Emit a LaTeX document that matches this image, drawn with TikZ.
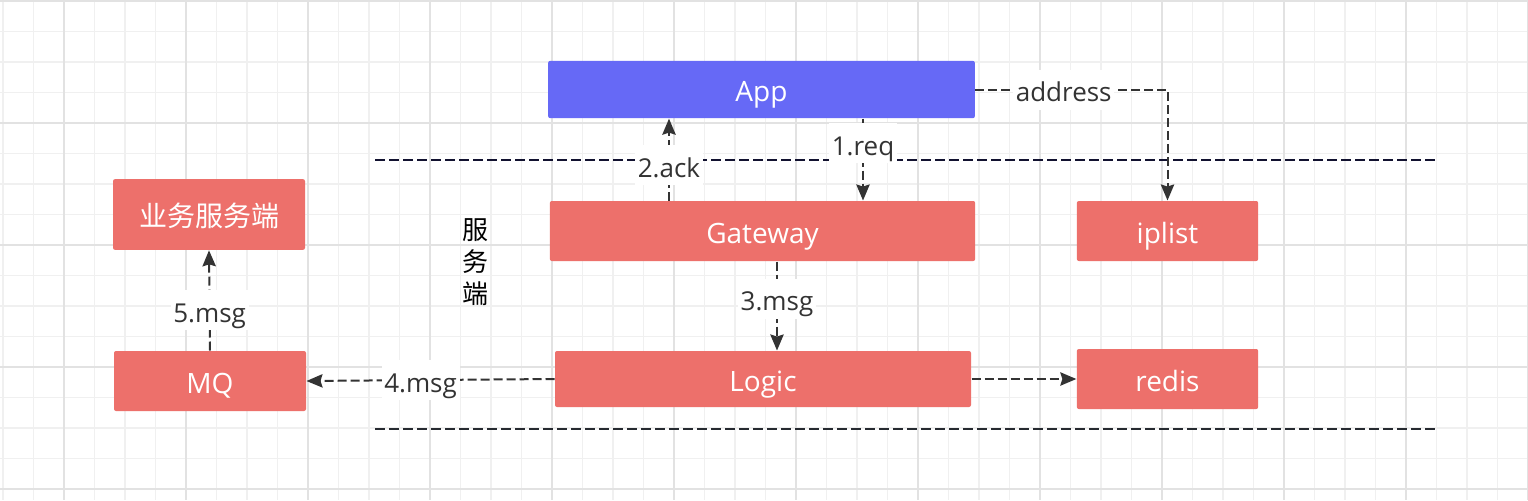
\documentclass[tikz,border=0pt]{standalone}
\usepackage{fontspec}
\newfontfamily\latfont{Open Sans}
\newfontfamily\cjkfont{Noto Sans CJK SC}
\usetikzlibrary{arrows.meta}
\definecolor{appblue}{RGB}{102,105,246}
\definecolor{boxred}{RGB}{237,112,107}
\definecolor{edgegray}{RGB}{51,51,51}
\definecolor{minorgrid}{RGB}{240,240,240}
\definecolor{majorgrid}{RGB}{226,226,226}
\definecolor{sepnavy}{RGB}{18,18,48}
\definecolor{sepgray}{RGB}{38,42,48}
\tikzset{every picture/.style={line width=0.75pt}}

\begin{document}
\begin{tikzpicture}[x=0.75pt,y=-0.75pt,
    box/.style={fill=boxred,text=white,rounded corners=1.5pt,inner sep=0pt,text height=22pt,text depth=4pt,font=\latfont\fontsize{21pt}{24pt}\selectfont},
    lbl/.style={fill=white,text=edgegray,inner sep=2pt,text height=22pt,text depth=4pt,font=\latfont\fontsize{19.5pt}{24pt}\selectfont},
    arr/.style={draw=edgegray,line width=1.5pt,dash pattern=on 6.75pt off 3pt,-{Stealth[length=12pt,width=10pt,inset=1.5pt]}},
    sep/.style={line width=1.5pt,dash pattern=on 7.5pt off 3pt}]
    \useasboundingbox (0,0) rectangle (1528,500);
    \fill[white] (0,0) rectangle (1528,500);
    \foreach \i in {0,...,50} \draw[minorgrid,line width=1pt] ({3+30.5*\i},0) -- ++(0,500);
    \foreach \i in {0,...,16} \draw[minorgrid,line width=1pt] (0,{1+30.5*\i}) -- ++(1528,0);
    \foreach \i in {0,...,12} \draw[majorgrid,line width=1.2pt] ({64+122*\i},0) -- ++(0,500);
    \foreach \i in {0,...,4} \draw[majorgrid,line width=1.2pt] (0,{1+122*\i}) -- ++(1528,0);

    \draw[sep,sepnavy] (375,160) -- (1436,160);
    \draw[sep,sepgray] (375,429) -- (1436,429);

    \node[box,fill=appblue,minimum width=320pt,minimum height=43pt] (App) at (761.5,89.5) {App};
    \node[box,minimum width=319pt,minimum height=45pt] (Gateway) at (762.5,231) {Gateway};
    \node[box,minimum width=136pt,minimum height=45pt] (iplist) at (1167.5,231) {iplist};
    \node[box,minimum width=144pt,minimum height=53pt,font=\cjkfont\fontsize{21pt}{24pt}\selectfont] (biz) at (209,214.5) {业务服务端};
    \node[box,minimum width=144pt,minimum height=45pt] (MQ) at (210,381) {MQ};
    \node[box,minimum width=312pt,minimum height=42pt] (Logic) at (763,379) {Logic};
    \node[box,minimum width=136pt,minimum height=45pt] (redis) at (1167.5,379) {redis};
    \node[align=center,inner sep=0pt,font=\cjkfont\fontsize{19.5pt}{24pt}\selectfont] (side) at (475,262) {服\\务\\端};

    \coordinate (reqx) at (863,0);
    \coordinate (ackx) at (669,0);
    \coordinate (msgx) at (777,0);
    \draw[arr] (App.south -| reqx) -- node[lbl,pos=0.3] {1.req} (Gateway.north -| reqx);
    \draw[arr] (Gateway.north -| ackx) -- node[lbl,pos=0.43] {2.ack} (App.south -| ackx);
    \draw[arr] (App.east) -| node[lbl,pos=0.23] {address} (iplist.north);
    \draw[arr] (Gateway.south -| msgx) -- node[lbl,pos=0.42] {3.msg} (Logic.north -| msgx);
    \draw[arr] (Logic.west) -- node[lbl,pos=0.54] {4.msg} (MQ.east);
    \draw[arr] (Logic.east) -- (redis.west);
    \draw[arr] (MQ.north) -- node[lbl,pos=0.4] {5.msg} (biz.south);
\end{tikzpicture}
\end{document}
